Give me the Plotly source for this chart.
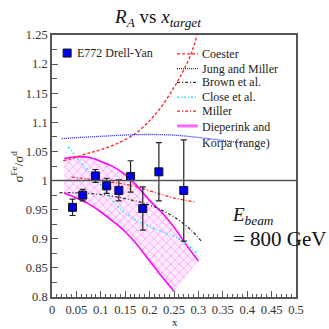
import plotly.graph_objects as go

# E772 Drell-Yan Fe/d cross-section ratio
x_data = [0.042, 0.063, 0.089, 0.112, 0.137, 0.161, 0.186, 0.219, 0.270]
ratio = [0.954, 0.975, 1.008, 0.991, 0.983, 1.007, 0.952, 1.015, 0.983]
ratio_err = [0.014, 0.010, 0.011, 0.013, 0.018, 0.027, 0.037, 0.050, 0.087]

# Model curves
coester_x = [0.023, 0.05, 0.078, 0.1, 0.132, 0.173, 0.2, 0.22, 0.25, 0.27, 0.288, 0.297]
coester_y = [1.034, 1.040, 1.048, 1.053, 1.063, 1.082, 1.103, 1.122, 1.160, 1.190, 1.224, 1.250]

jung_x = [0.02, 0.1, 0.18, 0.25, 0.3, 0.35, 0.394]
jung_y = [1.072, 1.076, 1.079, 1.078, 1.074, 1.069, 1.064]

brown_x = [0.015, 0.05, 0.1, 0.15, 0.2, 0.23, 0.26, 0.285, 0.306]
brown_y = [0.979, 0.979, 0.976, 0.969, 0.958, 0.947, 0.932, 0.915, 0.896]

close_x = [0.033, 0.06, 0.08, 0.1, 0.12, 0.143, 0.165, 0.184, 0.22, 0.265, 0.296]
close_y = [1.058, 1.030, 1.012, 0.993, 0.970, 0.949, 0.935, 0.927, 0.914, 0.898, 0.876]

miller_x = [0.04, 0.07, 0.1, 0.14, 0.17, 0.206, 0.25, 0.296]
miller_y = [1.006, 1.003, 1.000, 0.995, 0.990, 0.981, 0.970, 0.963]

# Dieperink and Korpa band edges
dk_upper_x = [0.025, 0.05, 0.075, 0.1, 0.125, 0.15, 0.175, 0.2, 0.225, 0.25, 0.275, 0.3]
dk_upper_y = [1.038, 1.041, 1.040, 1.033, 1.024, 1.010, 0.990, 0.966, 0.945, 0.920, 0.890, 0.862]
dk_lower_x = [0.025, 0.05, 0.075, 0.1, 0.125, 0.15, 0.175, 0.2, 0.225, 0.25]
dk_lower_y = [0.978, 0.970, 0.960, 0.946, 0.930, 0.912, 0.889, 0.862, 0.835, 0.810]

x_ticks = [0, 0.05, 0.1, 0.15, 0.2, 0.25, 0.3, 0.35, 0.4, 0.45, 0.5]
y_ticks = [0.8, 0.85, 0.9, 0.95, 1.0, 1.05, 1.1, 1.15, 1.2, 1.25]

SERIF = "Liberation Serif, Times New Roman, serif"
FRAME = "#555555"

# plot-area geometry in pixels (used for overlay placement)
L, R, T, B = 52, 296, 35, 300
W = 329


def px(p):
    return (p - L) / (R - L)


def py(p):
    return (B - p) / (B - T)


fig = go.Figure()

# hatched band
fig.add_trace(go.Scatter(
    x=dk_upper_x + dk_lower_x[::-1],
    y=dk_upper_y + dk_lower_y[::-1],
    mode="lines", line=dict(width=0, color="rgba(0,0,0,0)"),
    fill="toself", fillcolor="rgba(255,90,255,0.10)",
    fillpattern=dict(shape="x", fgcolor="#ff44ff", fgopacity=0.75,
                     size=6, solidity=0.18),
    hoverinfo="skip", showlegend=False))
for xs, ys in ((dk_upper_x, dk_upper_y), (dk_lower_x, dk_lower_y)):
    fig.add_trace(go.Scatter(x=xs, y=ys, mode="lines", line_shape="spline",
                             line=dict(color="#ff00ff", width=1.6),
                             showlegend=False))

styles = [
    (coester_x, coester_y, "#ff2020", "3px,2px", 1.3),
    (jung_x, jung_y, "#1f1fff", "1px,1px", 1.3),
    (brown_x, brown_y, "#333333", "3px,2px,1px,2px", 1.3),
    (close_x, close_y, "#22e8f0", "2px,2px,1px,2px", 1.5),
    (miller_x, miller_y, "#ff2020", "3px,2px,1px,2px", 1.3),
]
for xs, ys, col, dash, w in styles:
    fig.add_trace(go.Scatter(x=xs, y=ys, mode="lines", line_shape="spline",
                             line=dict(color=col, dash=dash, width=w),
                             showlegend=False))

# reference line at unity
fig.add_shape(type="line", xref="paper", x0=0, x1=1, yref="y", y0=1, y1=1,
              line=dict(color=FRAME, width=1.6))

fig.add_trace(go.Scatter(
    x=x_data, y=ratio, mode="markers",
    error_y=dict(type="data", array=ratio_err, color="#222222",
                 thickness=1.2, width=3),
    marker=dict(symbol="square", size=8, color="#0000ee",
                line=dict(color="#111111", width=1)),
    showlegend=False))

# legend block
legend_rows = [
    ("Coester", "#ff2020", "3px,2px", 1.3, 54),
    ("Jung and Miller", "#1f1fff", "1px,1px", 1.3, 69),
    ("Brown et al.", "#333333", "3px,2px,1px,2px", 1.3, 83),
    ("Close et al.", "#22e8f0", "2px,2px,1px,2px", 1.5, 98),
    ("Miller", "#ff2020", "3px,2px,1px,2px", 1.3, 112),
    ("Dieperink and<br>Korpa (range)", "#ff66ff", "solid", 3, 127),
]
for label, col, dash, w, ypix in legend_rows:
    fig.add_shape(type="line", xref="paper", yref="paper",
                  x0=px(177), x1=px(198), y0=py(ypix), y1=py(ypix),
                  line=dict(color=col, dash=dash, width=w))
    multi = "<br>" in label
    fig.add_annotation(xref="paper", yref="paper", x=px(200),
                       y=py(ypix - 8) if multi else py(ypix),
                       xanchor="left", yanchor="top" if multi else "middle",
                       text=label, showarrow=False, align="left",
                       font=dict(family=SERIF, size=12, color="#222222"))

fig.add_trace(go.Scatter(
    x=[0.031], y=[1.219], mode="markers",
    marker=dict(symbol="square", size=8, color="#0000ee",
                line=dict(color="#111111", width=1)),
    showlegend=False, hoverinfo="skip"))
fig.add_annotation(xref="paper", yref="paper", x=px(75), y=py(53),
                   xanchor="left", yanchor="middle", text="E772 Drell-Yan",
                   showarrow=False,
                   font=dict(family=SERIF, size=12, color="#222222"))

# beam energy note
fig.add_annotation(xref="paper", yref="paper", x=px(230), y=py(218),
                   xanchor="left", yanchor="middle",
                   text="<i>E</i><sub><i>beam</i></sub>", showarrow=False,
                   font=dict(family=SERIF, size=19, color="#111111"))
fig.add_annotation(xref="paper", yref="paper", x=px(231), y=py(241),
                   xanchor="left", yanchor="middle", text="= 800 GeV",
                   showarrow=False,
                   font=dict(family=SERIF, size=21, color="#111111"))

# axis titles
fig.add_annotation(xref="paper", yref="paper", x=px(18), y=py(168),
                   xanchor="center", yanchor="middle", textangle=-90,
                   text="σ<sup>Fe</sup>/σ<sup>d</sup>", showarrow=False,
                   font=dict(family=SERIF, size=13, color="#222222"))
fig.add_annotation(xref="paper", yref="paper", x=px(175), y=py(325),
                   xanchor="center", yanchor="middle", text="x",
                   showarrow=False,
                   font=dict(family=SERIF, size=11, color="#222222"))

axis_common = dict(
    showgrid=False, zeroline=False, showline=True, linecolor=FRAME,
    linewidth=1.6, mirror=True, ticks="inside", ticklen=6, tickwidth=1.2,
    tickcolor=FRAME, tickfont=dict(family=SERIF, size=12.5, color="#333333"),
)

fig.update_layout(
    width=W, height=W,
    margin=dict(l=L, r=W - R, t=T, b=W - B),
    paper_bgcolor="white", plot_bgcolor="white",
    title=dict(text="<i>R</i><sub><i>A</i></sub> vs <i>x</i><sub><i>target</i></sub>",
               x=158 / W, y=1 - 16 / W, xanchor="center", yanchor="middle",
               font=dict(family=SERIF, size=19, color="#111111")),
    xaxis=dict(range=[0, 0.5], tickvals=x_ticks,
               ticktext=[f"{v:g}" for v in x_ticks],
               minor=dict(dtick=0.01, ticks="inside", ticklen=3,
                          tickcolor=FRAME, tickwidth=1),
               **axis_common),
    yaxis=dict(range=[0.8, 1.25], tickvals=y_ticks,
               ticktext=[f"{v:g}" for v in y_ticks],
               minor=dict(dtick=0.025, ticks="inside", ticklen=5,
                          tickcolor=FRAME, tickwidth=1),
               **axis_common),
)

fig.write_html("out.html")
